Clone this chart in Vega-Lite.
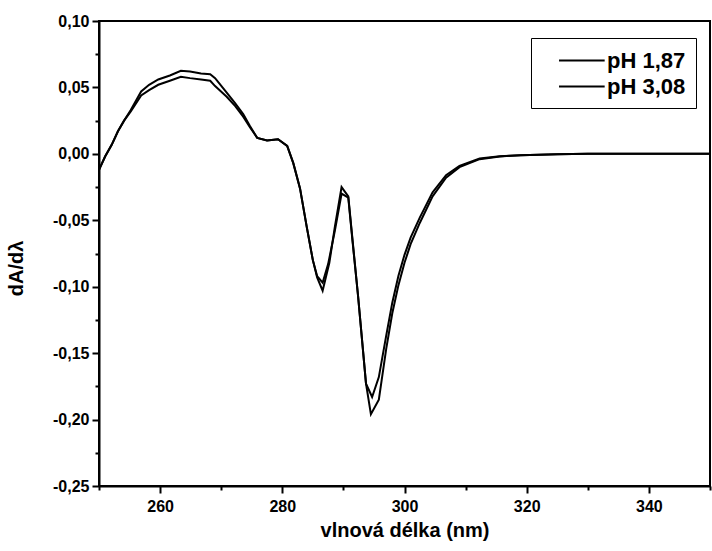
{
  "$schema": "https://vega.github.io/schema/vega-lite/v6.json",
  "width": 611,
  "height": 465,
  "autosize": {"type": "none"},
  "padding": {"left": 99, "top": 21, "right": 2, "bottom": 65},
  "background": "white",
  "config": {
    "view": {"stroke": "black", "strokeWidth": 2},
    "axis": {
      "domainColor": "black", "domainWidth": 2, "tickColor": "black", "tickWidth": 2,
      "labelFont": "Liberation Sans", "labelFontWeight": "bold", "labelFontSize": 16, "labelColor": "black",
      "titleFont": "Liberation Sans", "titleFontWeight": "bold", "titleFontSize": 20, "titleColor": "black",
      "grid": false
    }
  },
  "datasets": {
    "curves": [
      {"x": 250, "y": -0.012, "s": "pH 1,87"}, {"x": 251, "y": -0.002, "s": "pH 1,87"}, {"x": 252.1, "y": 0.007, "s": "pH 1,87"},
      {"x": 253.1, "y": 0.017, "s": "pH 1,87"}, {"x": 254.1, "y": 0.025, "s": "pH 1,87"}, {"x": 255.2, "y": 0.033, "s": "pH 1,87"},
      {"x": 256.9, "y": 0.047, "s": "pH 1,87"}, {"x": 258.2, "y": 0.052, "s": "pH 1,87"}, {"x": 259.7, "y": 0.056, "s": "pH 1,87"},
      {"x": 261.6, "y": 0.059, "s": "pH 1,87"}, {"x": 263.4, "y": 0.0625, "s": "pH 1,87"}, {"x": 264.9, "y": 0.062, "s": "pH 1,87"},
      {"x": 266.7, "y": 0.0605, "s": "pH 1,87"}, {"x": 268.2, "y": 0.06, "s": "pH 1,87"}, {"x": 269.0, "y": 0.057, "s": "pH 1,87"},
      {"x": 270.9, "y": 0.046, "s": "pH 1,87"}, {"x": 272.3, "y": 0.038, "s": "pH 1,87"}, {"x": 273.6, "y": 0.03, "s": "pH 1,87"},
      {"x": 274.7, "y": 0.021, "s": "pH 1,87"}, {"x": 275.9, "y": 0.012, "s": "pH 1,87"}, {"x": 277.5, "y": 0.01, "s": "pH 1,87"},
      {"x": 279.3, "y": 0.011, "s": "pH 1,87"}, {"x": 280.8, "y": 0.006, "s": "pH 1,87"}, {"x": 281.8, "y": -0.007, "s": "pH 1,87"},
      {"x": 282.9, "y": -0.026, "s": "pH 1,87"}, {"x": 284.0, "y": -0.055, "s": "pH 1,87"}, {"x": 285.0, "y": -0.08, "s": "pH 1,87"},
      {"x": 285.7, "y": -0.093, "s": "pH 1,87"}, {"x": 286.6, "y": -0.103, "s": "pH 1,87"}, {"x": 287.7, "y": -0.082, "s": "pH 1,87"},
      {"x": 288.6, "y": -0.055, "s": "pH 1,87"}, {"x": 289.7, "y": -0.025, "s": "pH 1,87"}, {"x": 290.8, "y": -0.032, "s": "pH 1,87"},
      {"x": 291.5, "y": -0.065, "s": "pH 1,87"}, {"x": 292.4, "y": -0.107, "s": "pH 1,87"}, {"x": 293.7, "y": -0.173, "s": "pH 1,87"},
      {"x": 294.5, "y": -0.196, "s": "pH 1,87"}, {"x": 295.8, "y": -0.185, "s": "pH 1,87"}, {"x": 297.0, "y": -0.147, "s": "pH 1,87"},
      {"x": 298.0, "y": -0.12, "s": "pH 1,87"}, {"x": 299.0, "y": -0.099, "s": "pH 1,87"}, {"x": 300.0, "y": -0.082, "s": "pH 1,87"},
      {"x": 301.0, "y": -0.068, "s": "pH 1,87"}, {"x": 302.5, "y": -0.052, "s": "pH 1,87"}, {"x": 304.6, "y": -0.032, "s": "pH 1,87"},
      {"x": 306.8, "y": -0.018, "s": "pH 1,87"}, {"x": 309, "y": -0.01, "s": "pH 1,87"}, {"x": 312.3, "y": -0.004, "s": "pH 1,87"},
      {"x": 315.6, "y": -0.002, "s": "pH 1,87"}, {"x": 319, "y": -0.001, "s": "pH 1,87"}, {"x": 325, "y": -0.0003, "s": "pH 1,87"},
      {"x": 330, "y": 0, "s": "pH 1,87"}, {"x": 340, "y": 0, "s": "pH 1,87"}, {"x": 350, "y": 0, "s": "pH 1,87"},

      {"x": 250, "y": -0.012, "s": "pH 3,08"}, {"x": 251, "y": -0.002, "s": "pH 3,08"}, {"x": 252.1, "y": 0.007, "s": "pH 3,08"},
      {"x": 253.1, "y": 0.017, "s": "pH 3,08"}, {"x": 254.1, "y": 0.025, "s": "pH 3,08"}, {"x": 255.2, "y": 0.032, "s": "pH 3,08"},
      {"x": 256.9, "y": 0.044, "s": "pH 3,08"}, {"x": 258.2, "y": 0.048, "s": "pH 3,08"}, {"x": 259.7, "y": 0.052, "s": "pH 3,08"},
      {"x": 261.6, "y": 0.055, "s": "pH 3,08"}, {"x": 263.4, "y": 0.058, "s": "pH 3,08"}, {"x": 264.9, "y": 0.057, "s": "pH 3,08"},
      {"x": 266.7, "y": 0.056, "s": "pH 3,08"}, {"x": 268.2, "y": 0.055, "s": "pH 3,08"}, {"x": 269.0, "y": 0.051, "s": "pH 3,08"},
      {"x": 270.9, "y": 0.043, "s": "pH 3,08"}, {"x": 272.3, "y": 0.036, "s": "pH 3,08"}, {"x": 273.6, "y": 0.028, "s": "pH 3,08"},
      {"x": 274.7, "y": 0.02, "s": "pH 3,08"}, {"x": 275.9, "y": 0.012, "s": "pH 3,08"}, {"x": 277.5, "y": 0.01, "s": "pH 3,08"},
      {"x": 279.3, "y": 0.011, "s": "pH 3,08"}, {"x": 280.8, "y": 0.006, "s": "pH 3,08"}, {"x": 281.8, "y": -0.007, "s": "pH 3,08"},
      {"x": 282.9, "y": -0.026, "s": "pH 3,08"}, {"x": 284.0, "y": -0.055, "s": "pH 3,08"}, {"x": 285.0, "y": -0.08, "s": "pH 3,08"},
      {"x": 285.7, "y": -0.092, "s": "pH 3,08"}, {"x": 286.6, "y": -0.097, "s": "pH 3,08"}, {"x": 287.5, "y": -0.083, "s": "pH 3,08"},
      {"x": 288.6, "y": -0.058, "s": "pH 3,08"}, {"x": 289.7, "y": -0.03, "s": "pH 3,08"}, {"x": 290.8, "y": -0.033, "s": "pH 3,08"},
      {"x": 291.5, "y": -0.066, "s": "pH 3,08"}, {"x": 292.4, "y": -0.107, "s": "pH 3,08"}, {"x": 293.7, "y": -0.173, "s": "pH 3,08"},
      {"x": 294.7, "y": -0.183, "s": "pH 3,08"}, {"x": 295.8, "y": -0.168, "s": "pH 3,08"}, {"x": 297.0, "y": -0.137, "s": "pH 3,08"},
      {"x": 298.0, "y": -0.112, "s": "pH 3,08"}, {"x": 299.0, "y": -0.092, "s": "pH 3,08"}, {"x": 300.0, "y": -0.076, "s": "pH 3,08"},
      {"x": 301.0, "y": -0.063, "s": "pH 3,08"}, {"x": 302.5, "y": -0.048, "s": "pH 3,08"}, {"x": 304.6, "y": -0.029, "s": "pH 3,08"},
      {"x": 306.8, "y": -0.016, "s": "pH 3,08"}, {"x": 309, "y": -0.009, "s": "pH 3,08"}, {"x": 312.3, "y": -0.0035, "s": "pH 3,08"},
      {"x": 315.6, "y": -0.0018, "s": "pH 3,08"}, {"x": 319, "y": -0.001, "s": "pH 3,08"}, {"x": 325, "y": -0.0003, "s": "pH 3,08"},
      {"x": 330, "y": 0, "s": "pH 3,08"}, {"x": 340, "y": 0, "s": "pH 3,08"}, {"x": 350, "y": 0, "s": "pH 3,08"}
    ]
  },
  "data": {"name": "curves"},
  "layer": [
    {
      "transform": [{"filter": "datum.s === 'pH 1,87'"}],
      "mark": {"type": "line", "strokeWidth": 2, "clip": true},
      "encoding": {
        "x": {"field": "x", "type": "quantitative", "scale": {"domain": [250, 350], "nice": false, "zero": false},
          "axis": {"orient": "bottom", "title": "vlnová délka (nm)", "values": [260, 280, 300, 320, 340], "tickSize": 7, "labelPadding": 5, "titlePadding": 6}},
        "y": {"field": "y", "type": "quantitative", "scale": {"domain": [-0.25, 0.1], "nice": false, "zero": false},
          "axis": {"orient": "left", "title": "dA/dλ", "values": [-0.25, -0.2, -0.15, -0.1, -0.05, 0, 0.05, 0.1], "tickSize": 7, "labelPadding": 3, "titlePadding": 26, "titleY": 247,
            "labelExpr": "replace(replace(format(datum.value, '.2f'), '.', ','), '\u2212', '-')"}},
        "color": {"field": "s", "type": "nominal", "scale": {"domain": ["pH 1,87", "pH 3,08"], "range": ["black", "black"]},
          "legend": {"orient": "none", "legendX": 432, "legendY": 17, "title": null, "symbolType": "M0.48,0H4.45", "symbolSize": 529,
            "symbolStrokeWidth": 2, "symbolStrokeColor": "black", "symbolFillColor": "transparent",
            "labelFont": "Liberation Sans", "labelFontWeight": "bold", "labelFontSize": 22,
            "labelColor": "black", "strokeColor": "black", "padding": 10, "rowPadding": 2, "labelOffset": 41, "fillColor": "white"}}
      }
    },
    {
      "transform": [{"filter": "datum.s === 'pH 3,08'"}],
      "mark": {"type": "line", "strokeWidth": 2, "clip": true},
      "encoding": {
        "x": {"field": "x", "type": "quantitative", "scale": {"domain": [250, 350], "nice": false, "zero": false},
          "axis": {"orient": "bottom", "title": null, "values": [250, 270, 290, 310, 330, 350], "tickSize": 4, "labels": false, "domain": false}},
        "y": {"field": "y", "type": "quantitative", "scale": {"domain": [-0.25, 0.1], "nice": false, "zero": false},
          "axis": {"orient": "left", "title": null, "values": [-0.225, -0.175, -0.125, -0.075, -0.025, 0.025, 0.075], "tickSize": 4, "labels": false, "domain": false}},
        "color": {"field": "s", "type": "nominal"}
      }
    }
  ],
  "resolve": {"axis": {"x": "independent", "y": "independent"}}
}
